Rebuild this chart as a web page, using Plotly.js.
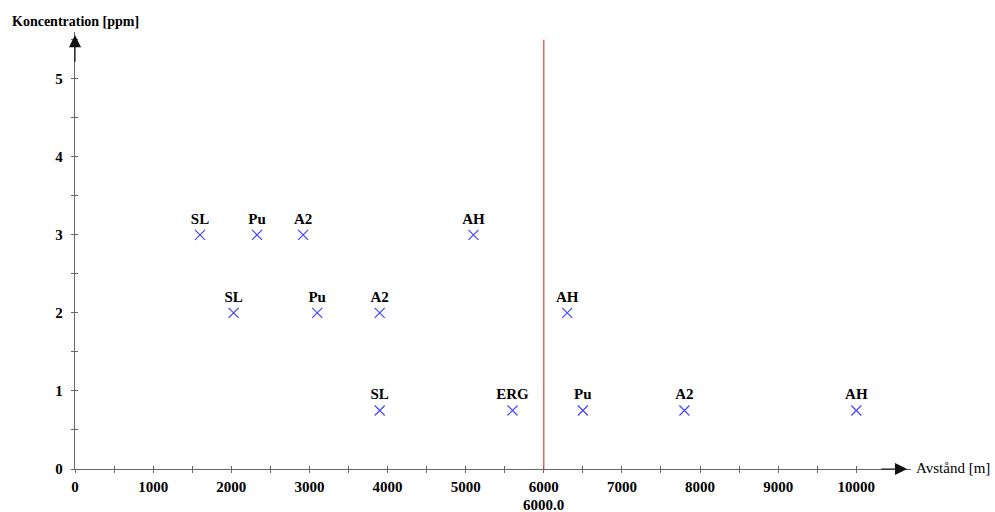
<!DOCTYPE html>
<html>
<head>
<meta charset="utf-8">
<script src="https://cdn.plot.ly/plotly-3.0.1.min.js"></script>
<style>html,body{margin:0;padding:0;background:#fff;}#chart{width:995px;height:512px;}</style>
</head>
<body>
<div id="chart"></div>
<script>
// Data
const distances = [1600, 2330, 2920, 5100, 2030, 3100, 3900, 6300, 3900, 5600, 6500, 7800, 10000];
const concentrations = [3, 3, 3, 3, 2, 2, 2, 2, 0.75, 0.75, 0.75, 0.75, 0.75];
const labels = ['SL', 'Pu', 'A2', 'AH', 'SL', 'Pu', 'A2', 'AH', 'SL', 'ERG', 'Pu', 'A2', 'AH'];
const limitX = 6000;
const limitLabel = '6000.0';
const xTitle = 'Avstånd [m]';
const yTitle = 'Koncentration [ppm]';

const serif = 'Liberation Serif, Times New Roman, serif';
const axisColor = '#666';

const traces = [
  {
    x: distances, y: concentrations, text: labels,
    type: 'scatter', mode: 'markers+text', textposition: 'top center',
    textfont: {family: serif, size: 15, color: '#000', weight: 'bold'},
    marker: {symbol: 'x-thin', size: 10, line: {color: '#4444ff', width: 1.2}, color: '#4444ff'},
    cliponaxis: false, hoverinfo: 'skip'
  },
  {x: [0], y: [0], xaxis: 'x2', yaxis: 'y2', mode: 'markers', marker: {opacity: 0}, hoverinfo: 'skip'}
];

const xr = [0, 10700], yr = [0, 5.6];
const layout = {
  width: 995, height: 512,
  margin: {l: 75, r: 84, t: 32, b: 43},
  paper_bgcolor: '#fff', plot_bgcolor: '#fff',
  showlegend: false,
  xaxis: {
    range: xr, showgrid: false, zeroline: false, showline: true, linecolor: axisColor, linewidth: 1.2,
    tickmode: 'linear', tick0: 0, dtick: 1000, ticks: 'outside', ticklen: 3, tickcolor: axisColor,
    tickformat: 'd',
    minor: {dtick: 500, ticks: 'outside', ticklen: 3, tickcolor: axisColor},
    tickfont: {family: serif, size: 15, color: '#000', weight: 'bold'}, ticklabelstandoff: 1,
    fixedrange: true
  },
  yaxis: {
    range: yr, showgrid: false, zeroline: false, showline: true, linecolor: axisColor, linewidth: 1.2,
    tickmode: 'linear', tick0: 0, dtick: 1, ticks: 'outside', ticklen: 3, tickcolor: axisColor,
    minor: {dtick: 0.5, ticks: 'outside', ticklen: 3, tickcolor: axisColor},
    tickfont: {family: serif, size: 15, color: '#000', weight: 'bold'}, ticklabelstandoff: 5,
    fixedrange: true
  },
  xaxis2: {
    overlaying: 'x', matches: 'x', range: xr, showgrid: false, zeroline: false, showticklabels: false,
    tickmode: 'linear', tick0: 0, dtick: 1000, ticks: 'inside', ticklen: 3, tickcolor: axisColor,
    minor: {dtick: 500, ticks: 'inside', ticklen: 3, tickcolor: axisColor}
  },
  yaxis2: {
    overlaying: 'y', matches: 'y', range: yr, showgrid: false, zeroline: false, showticklabels: false,
    tickmode: 'linear', tick0: 0, dtick: 1, ticks: 'inside', ticklen: 3, tickcolor: axisColor,
    minor: {dtick: 0.5, ticks: 'inside', ticklen: 3, tickcolor: axisColor}
  },
  shapes: [
    {type: 'line', xref: 'x', yref: 'y', x0: limitX, x1: limitX, y0: -0.12, y1: 5.5,
     line: {color: '#e84040', width: 1.2}}
  ],
  annotations: [
    {xref: 'x', yref: 'y', x: 10650, y: 0, ax: 10300, ay: 0, axref: 'x', ayref: 'y',
     showarrow: true, arrowhead: 2, arrowsize: 2.2, arrowwidth: 1.1, arrowcolor: '#111', text: ''},
    {xref: 'x', yref: 'y', x: 0, y: 5.56, ax: 0, ay: 5.2, axref: 'x', ayref: 'y',
     showarrow: true, arrowhead: 2, arrowsize: 2.2, arrowwidth: 1.1, arrowcolor: '#111', text: ''},
    {xref: 'x', yref: 'y', x: 10700, y: 0, xanchor: 'left', yanchor: 'middle', xshift: 3, yshift: 1,
     showarrow: false, text: xTitle, font: {family: serif, size: 15, color: '#000'}},
    {xref: 'paper', yref: 'paper', x: -0.078, y: 1.0, xanchor: 'left', yanchor: 'bottom', yshift: 1,
     showarrow: false, text: yTitle, font: {family: serif, size: 14, color: '#000', weight: 'bold'}},
    {xref: 'x', yref: 'paper', x: limitX, y: 0, xanchor: 'center', yanchor: 'top', yshift: -26,
     showarrow: false, text: limitLabel, font: {family: serif, size: 15, color: '#000', weight: 'bold'}}
  ]
};

Plotly.newPlot('chart', traces, layout, {displayModeBar: false, staticPlot: true});
</script>
</body>
</html>
